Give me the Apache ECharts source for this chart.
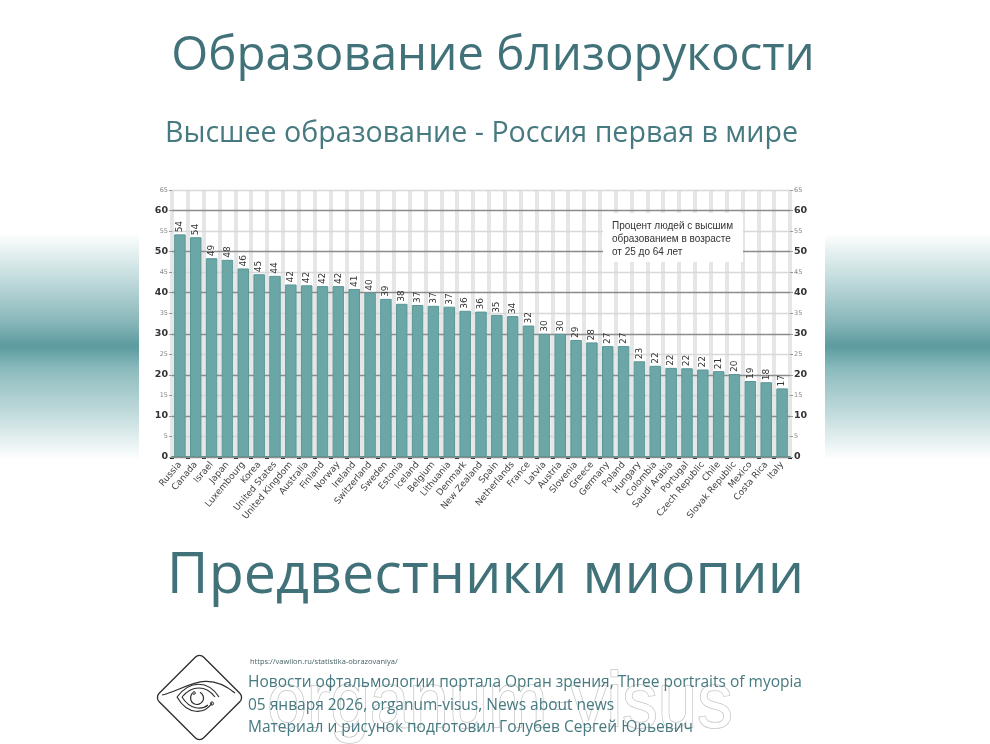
<!DOCTYPE html>
<html><head><meta charset="utf-8">
<style>html,body{margin:0;padding:0;background:#fff}#c{width:990px;height:744px}</style>
<script src="https://cdn.jsdelivr.net/npm/echarts@6/dist/echarts.min.js"></script></head>
<body><div id="c"></div>
<script>
const categories = ['Russia','Canada','Israel','Japan','Luxembourg','Korea','United States','United Kingdom','Australia','Finland','Norway','Ireland','Switzerland','Sweden','Estonia','Iceland','Belgium','Lithuania','Denmark','New Zealand','Spain','Netherlands','France','Latvia','Austria','Slovenia','Greece','Germany','Poland','Hungary','Colombia','Saudi Arabia','Portugal','Czech Republic','Chile','Slovak Republic','Mexico','Costa Rica','Italy'];
const values = [54.2,53.5,48.4,48,45.9,44.5,44.1,42,41.8,41.6,41.6,40.9,40,38.5,37.3,37,36.8,36.6,35.6,35.4,34.6,34.3,32,30,30,28.5,27.9,27,27,23.3,22.2,21.7,21.6,21.3,20.9,20.2,18.5,18.2,16.7];
const valueLabels = [54,54,49,48,46,45,44,42,42,42,42,41,40,39,38,37,37,37,36,36,35,34,32,30,30,29,28,27,27,23,22,22,22,22,21,20,19,18,17];
const heading = 'Образование близорукости';
const subheading = 'Высшее образование - Россия первая в мире';
const footerHeading = 'Предвестники миопии';
const note = ['Процент людей с высшим','образованием в возрасте','от 25 до 64 лет'];
const credits = ['Новости офтальмологии портала Орган зрения, Three portraits of myopia','05 января 2026, organum-visus, News about news','Материал и рисунок подготовил Голубев Сергей Юрьевич'];
const source = 'https://vawilon.ru/statistika-obrazovaniya/';

const TEAL = '#41727a', TEXT2 = '#467a80', INK = '#2c2c2c';
const band = () => new echarts.graphic.LinearGradient(0,0,0,1,[
  {offset:0,color:'#ffffff'},{offset:.2,color:'#c3dcdd'},{offset:.4,color:'#85b5b8'},
  {offset:.48,color:'#639fa3'},{offset:.5,color:'#5c9ba0'},{offset:.52,color:'#65a2a6'},
  {offset:.6,color:'#8cbbbd'},{offset:.8,color:'#c3dcdd'},{offset:1,color:'#ffffff'}]);
const axisLab = {
  margin:4,
  formatter:v=> v%10===0 ? '{a|'+v+'}' : '{b|'+v+'}',
  rich:{a:{fontSize:9.5,color:'#333',fontFamily:'DejaVu Sans',fontWeight:'bold'},
        b:{fontSize:6.5,color:'#888',fontFamily:'DejaVu Sans'}}
};
const yBase = {type:'value',min:0,max:65,interval:5,z:1,axisLine:{show:false},
  axisTick:{show:true,length:3,lineStyle:{color:'#999'}},axisLabel:axisLab};
const stroke = w => ({fill:'none',stroke:INK,lineWidth:w});
const deco = (o) => Object.assign({z:54,silent:true},o);
const chart = echarts.init(document.getElementById('c'),null,{renderer:'canvas'});
chart.setOption({
  animation:false,
  backgroundColor:'#fff',
  title:[
    {text:heading,left:488,top:27,textAlign:'center',textStyle:{fontFamily:'Open Sans',fontSize:47.5,fontWeight:'normal',color:TEAL}},
    {text:subheading,left:476.5,top:114,textAlign:'center',textStyle:{fontFamily:'Open Sans',fontSize:28.6,fontWeight:'normal',color:TEXT2}},
    {text:footerHeading,left:480.5,top:543,textAlign:'center',textStyle:{fontFamily:'Open Sans',fontSize:57.4,fontWeight:'normal',color:TEAL}}
  ],
  grid:{left:172,right:200,top:190,bottom:287,containLabel:false},
  xAxis:{type:'category',data:categories,
    axisLine:{lineStyle:{color:'#5f8f90',width:2}},
    axisTick:{show:true,interval:0,length:2,lineStyle:{color:'#222',width:4}},
    axisLabel:{interval:0,rotate:50,margin:6,fontSize:9,color:'#444',fontFamily:'DejaVu Sans'},
    splitLine:{show:true,interval:0,lineStyle:{color:'#e5e6e6',width:4}}},
  yAxis:[
    Object.assign({},yBase,{position:'left',splitLine:{show:true,lineStyle:{color:['#8c8c8c','#d8d8d8'],width:1.4}}}),
    Object.assign({},yBase,{position:'right',splitLine:{show:false}})
  ],
  series:[{type:'bar',z:3,data:values,barWidth:11.5,yAxisIndex:0,
    itemStyle:{color:'#6ca7a8',borderColor:'#5b9697',borderWidth:1},
    label:{show:true,position:'top',rotate:90,distance:2,align:'left',verticalAlign:'middle',
      fontSize:9,color:'#333',fontFamily:'DejaVu Sans',
      formatter:p=>String(valueLabels[p.dataIndex])}}],
  graphic:[
    {type:'rect',z:-10,silent:true,shape:{x:0,y:233,width:139,height:227},style:{fill:band()}},
    {type:'rect',z:-10,silent:true,shape:{x:825,y:233,width:165,height:227},style:{fill:band()}},
    {type:'rect',z:50,silent:true,shape:{x:603,y:213,width:140,height:49},style:{fill:'#fff'}},
    ...note.map((t,i)=>({type:'text',z:51,silent:true,x:612,y:226+i*13,
      style:{text:t,fontFamily:'Liberation Sans',fontSize:10,fill:'#333',verticalAlign:'middle'}})),
    {type:'text',z:52,silent:true,x:500,y:705,scaleX:.91,style:{text:'organum-visus',align:'center',verticalAlign:'middle',
      fontFamily:'Liberation Sans',fontSize:78,fill:'#fff',stroke:'#c4c4c4',lineWidth:1.6,
      shadowBlur:3,shadowColor:'rgba(0,0,0,0.25)'}},
    {type:'text',z:53,silent:true,x:250,y:662,style:{text:source,fontFamily:'Open Sans',fontSize:7.5,fill:'#445f63',verticalAlign:'middle'}},
    ...credits.map((t,i)=>({type:'text',z:53,silent:true,x:248,y:683+i*22.5,
      style:{text:t,fontFamily:'Open Sans',fontSize:15.5,fill:TEXT2,verticalAlign:'middle'}})),
    deco({type:'rect',z:53,x:199.5,y:697.5,rotation:Math.PI/4,shape:{x:-31.5,y:-31.5,width:63,height:63,r:6},style:{fill:'#fff',stroke:INK,lineWidth:1.3}}),
    deco({type:'bezierCurve',shape:{x1:162,y1:695,x2:235,y2:693,cpx1:185,cpy1:690,cpx2:205,cpy2:668},style:stroke(1.2)}),
    deco({type:'bezierCurve',shape:{x1:177,y1:697,x2:219,y2:697,cpx1:190,cpy1:680,cpx2:208,cpy2:680},style:stroke(1.2)}),
    deco({type:'bezierCurve',shape:{x1:177,y1:697,x2:212,y2:703,cpx1:188,cpy1:716,cpx2:205,cpy2:714},style:stroke(1.2)}),
    deco({type:'bezierCurve',shape:{x1:182,y1:697,x2:215,y2:697,cpx1:192,cpy1:685,cpx2:206,cpy2:685},style:stroke(1.1)}),
    deco({type:'bezierCurve',shape:{x1:182,y1:697,x2:208,y2:705,cpx1:190,cpy1:710,cpx2:202,cpy2:710},style:stroke(1.1)}),
    deco({type:'arc',shape:{cx:197,cy:698,r:6.5,startAngle:-1.1,endAngle:3.9},style:stroke(1.2)}),
    deco({type:'circle',shape:{cx:194,cy:693,r:1.3},style:stroke(1)}),
    deco({type:'circle',shape:{cx:212,cy:703.5,r:1.6},style:stroke(1)})
  ]
});
</script></body></html>
